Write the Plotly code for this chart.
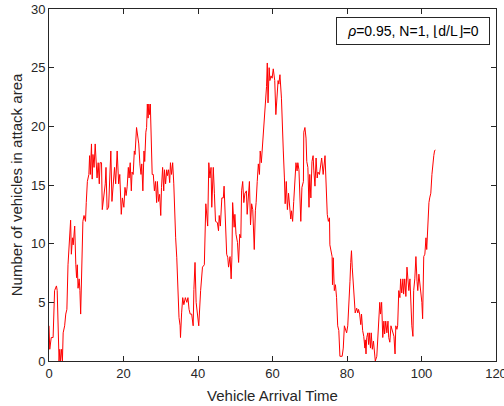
import plotly.graph_objects as go

# ---- data ----
arrival_time = [
    0, 0.2, 0.6, 1.1, 1.5, 2.0, 2.2, 2.7, 2.9, 3.1, 3.4, 3.6, 3.8, 4.2, 4.5, 4.8, 5.1, 5.6, 5.8, 6.0,
    6.3, 6.5, 6.9, 7.2, 7.4, 7.6, 7.8, 8.1, 8.3, 8.5, 8.8, 9.0, 9.1, 9.4, 9.8, 10.0, 10.3, 10.7, 10.9, 11.1,
    11.4, 11.6, 11.8, 12.1, 12.4, 12.6, 12.9, 13.2, 13.5, 13.7, 14.1, 14.3, 14.7, 15.1, 15.3, 15.6, 16.0, 16.3, 16.6, 16.9,
    17.2, 17.6, 17.9, 18.3, 18.7, 19.0, 19.4, 19.7, 20.1, 20.4, 20.7, 21.0, 21.3, 21.5, 21.8, 22.1, 22.3, 22.6, 22.9, 23.1,
    23.5, 23.9, 24.1, 24.4, 24.7, 24.9, 25.2, 25.5, 25.7, 26.0, 26.2, 26.4, 26.6, 26.8, 27.0, 27.2, 27.4, 27.7, 28.0, 28.3,
    28.6, 28.9, 29.1, 29.4, 29.7, 30.0, 30.2, 30.5, 30.8, 31.0, 31.3, 31.6, 31.8, 32.1, 32.4, 32.6, 32.9, 33.2, 33.5, 33.7,
    34.0, 34.3, 34.4, 34.6, 34.9, 35.2, 35.3, 35.6, 35.9, 36.2, 36.6, 37.0, 37.3, 37.6, 37.9, 38.3, 38.7, 38.9, 39.2, 39.5,
    39.8, 40.2,
    40.7, 41.2, 41.7, 42.1, 42.6, 42.9, 43.2, 43.5, 43.7, 44.1, 44.4, 44.7, 45.2, 45.5, 45.7, 46.0, 46.4, 46.8, 47.0, 47.3,
    47.7, 48.0, 48.2, 48.6, 48.9, 49.1, 49.3, 49.7, 49.9, 50.2, 50.6, 50.9, 51.2, 51.5, 51.7, 52.0, 52.3, 52.6, 53.0, 53.2,
    53.5, 53.8, 54.1, 54.4, 54.7, 55.1, 55.4, 55.6, 55.9, 56.2, 56.5, 56.7, 57.0, 57.3, 57.5, 57.8, 58.1, 58.4, 58.6, 58.8,
    59.1, 59.3, 59.6, 59.9, 60.2, 60.6, 60.9, 61.1, 61.5, 61.7, 62.0, 62.4, 62.6, 62.9, 63.2, 63.4, 63.7, 64.0, 64.3, 64.6,
    64.9, 65.1, 65.4, 65.7, 66.0, 66.3, 66.6, 66.8, 67.1, 67.4, 67.6, 67.9, 68.3, 68.4, 68.7, 69.0, 69.2, 69.5, 69.8, 70.0,
    70.3, 70.6, 70.9, 71.1, 71.4, 71.7, 72.0, 72.2, 72.6,
    73.2, 73.6, 74.1, 74.4, 74.7, 75.0, 75.3, 75.4, 75.7, 76.0, 76.1, 76.3, 76.6, 76.9, 77.2, 77.5, 77.8, 78.1, 78.7, 79.0,
    79.3, 79.6, 79.9, 80.2, 80.4, 80.8, 81.0, 81.2, 81.4, 81.7, 82.0, 82.2, 82.6, 82.9, 83.1, 83.4, 83.7, 83.9, 84.2, 84.5,
    84.8, 84.9, 85.1, 85.3, 85.6, 85.8, 86.0, 86.3, 86.5, 86.8, 87.1, 87.4, 87.6, 88.0, 88.2, 88.5, 88.8, 89.0, 89.3, 89.6,
    89.9, 90.1, 90.4, 90.7, 91.0, 91.2, 91.5, 91.8, 92.0, 92.3, 92.6, 92.9, 93.1, 93.4, 93.6, 93.9, 94.2, 94.4, 94.7, 95.0,
    95.2, 95.5, 95.8, 96.1, 96.3, 96.6, 96.9, 97.1, 97.4, 97.7, 97.9, 98.2, 98.5, 98.8, 99.0, 99.3, 99.6, 99.8, 100.1, 100.3,
    100.6, 100.9, 101.2, 101.4, 101.7, 102.0, 102.2, 102.5, 102.8, 103.0, 103.3, 103.5, 103.7,
]

vehicles = [
    3.0, 1.0, 2.0, 2.0, 6.0, 6.4, 6.0, 0.0, 1.0, 0.0, 1.0, 0.0, 2.4, 3.0, 4.0, 4.4, 8.2, 11.4, 12.0, 9.1,
    10.5, 9.9, 11.5, 8.2, 7.1, 8.2, 6.2, 7.0, 6.0, 4.0, 8.5, 9.4, 11.9, 12.4, 11.9, 13.5, 15.3, 15.9, 17.5, 15.9,
    18.5, 15.5, 17.6, 16.5, 18.5, 17.3, 15.6, 16.9, 15.1, 16.9, 16.9, 12.9, 14.2, 15.1, 16.5, 12.9, 13.1, 15.2, 17.9, 13.6,
    14.6, 16.5, 15.1, 17.9, 15.1, 15.9, 12.5, 13.9, 13.1, 14.8, 14.1, 14.9, 16.5, 15.6, 16.9, 14.5, 16.1, 15.9, 17.9, 17.6,
    19.9, 19.0, 18.5, 16.8, 15.9, 16.8, 14.5, 17.9, 17.0, 19.5, 19.9, 21.9, 20.7, 21.9, 21.0, 21.9, 19.5, 15.9, 15.9, 14.5,
    15.3, 13.5, 15.3, 13.6, 14.2, 12.4, 14.8, 16.5, 14.5, 16.3, 15.1, 16.3, 15.8, 16.3, 15.2, 16.9, 15.9, 16.9, 15.1, 12.5,
    10.5, 8.8, 8.0, 6.0, 3.7, 3.0, 2.0, 4.1, 5.4, 4.8, 5.4, 5.0, 5.4, 4.4, 4.0, 4.0, 3.0, 6.1, 8.4, 5.0,
    4.3, 3.0,
    6.0, 8.0, 8.2, 13.4, 11.5, 16.9, 15.6, 16.5, 13.1, 16.5, 14.3, 11.9, 11.8, 11.1, 12.4, 11.5, 13.9, 13.9, 14.9, 12.5,
    9.1, 8.8, 8.0, 8.9, 7.0, 8.8, 13.5, 11.4, 12.5, 10.8, 10.1, 8.4, 10.8, 10.5, 14.5, 15.3, 13.5, 14.3, 14.5, 12.5,
    14.3, 15.3, 11.6, 13.4, 12.9, 9.5, 12.8, 13.5, 15.3, 16.8, 15.9, 17.9, 16.9, 18.2, 19.3, 20.2, 22.3, 23.4, 25.4, 22.0,
    25.0, 23.9, 24.3, 24.1, 24.9, 23.9, 21.0, 21.9, 23.9, 23.6, 24.4, 22.4, 19.9, 17.9, 15.6, 13.4, 15.3, 12.9, 14.3, 13.1,
    12.1, 12.8, 11.9, 13.6, 15.3, 16.9, 16.2, 16.9, 16.3, 13.6, 11.9, 14.8, 15.3, 19.5, 19.9, 19.0, 17.0, 16.5, 13.1, 15.9,
    13.9, 17.0, 17.5, 16.2, 14.9, 17.3, 15.6, 16.1, 15.9,
    17.3, 15.9, 17.5, 14.8, 12.5, 11.9, 12.2, 9.9, 9.5, 8.9, 6.5, 8.8, 6.0, 6.5, 5.4, 3.0, 2.6, 0.4, 0.4, 1.1,
    3.0, 2.7, 2.4, 3.0, 4.8, 6.8, 8.4, 9.4, 8.0, 6.2, 4.7, 4.1, 4.5, 4.1, 4.4, 4.0, 3.1, 4.0, 2.6, 2.1,
    1.1, 1.8, 0.6, 2.0, 2.4, 1.4, 2.4, 1.1, 2.4, 1.0, 1.7, 0.6, 0.0, 0.4, 1.4, 3.4, 5.0, 4.0, 5.0, 2.0,
    3.4, 2.3, 3.4, 2.4, 3.4, 2.0, 1.6, 3.0, 2.8, 2.6, 2.1, 0.6, 3.0, 2.7, 3.0, 6.0, 5.4, 7.0, 5.8, 7.0,
    5.7, 7.0, 5.5, 8.0, 7.4, 6.0, 7.0, 5.1, 3.0, 2.1, 6.0, 7.0, 8.9, 6.8, 6.0, 7.4, 6.5, 6.0, 5.0, 3.6,
    8.9, 9.1, 10.5, 9.5, 11.8, 13.5, 13.9, 14.3, 15.9, 16.9, 17.5, 17.9, 18.0,
]

x_ticks = [0, 20, 40, 60, 80, 100, 120]
y_ticks = [0, 5, 10, 15, 20, 25, 30]
legend_text = "<i>ρ</i>=0.95, N=1, ⌊d/L⌋=0"
x_title = "Vehicle Arrival Time"
y_title = "Number of vehicles in attack area"

FONT = "Liberation Sans, Arial, Helvetica, sans-serif"
AX = "#262626"

fig = go.Figure()
fig.add_trace(go.Scatter(
    x=arrival_time, y=vehicles, mode="lines",
    line=dict(color="#ff0000", width=1),
    showlegend=False, hoverinfo="skip",
))

axis_common = dict(
    showgrid=False, zeroline=False, showline=True, linecolor=AX, linewidth=1,
    mirror="ticks", ticks="inside", ticklen=5, tickwidth=1, tickcolor=AX,
    tickfont=dict(family=FONT, size=13, color=AX), automargin=False,
    ticklabeloverflow="allow",
)

fig.update_layout(
    width=504, height=406,
    margin=dict(l=49, r=8, t=9, b=45),
    paper_bgcolor="white", plot_bgcolor="white",
    font=dict(family=FONT, color=AX),
    xaxis=dict(range=[0, 120], tickvals=x_ticks, ticktext=[str(v) for v in x_ticks],
               title=dict(text=x_title, font=dict(family=FONT, size=15, color=AX), standoff=10),
               **axis_common),
    yaxis=dict(range=[0, 30], tickvals=y_ticks, ticktext=[str(v) for v in y_ticks],
               title=dict(text=y_title, font=dict(family=FONT, size=15, color=AX), standoff=4),
               **axis_common),
    annotations=[dict(
        text=legend_text, xref="paper", yref="paper", x=0.9866, y=0.977,
        xanchor="right", yanchor="top", showarrow=False,
        width=150, height=24, align="center", valign="middle",
        font=dict(family=FONT, size=14, color="black"),
        bordercolor=AX, borderwidth=1, borderpad=1, bgcolor="white",
    )],
)

fig.write_html(
    "out.html",
    config={"displayModeBar": False, "staticPlot": True},
    post_script="document.body.style.margin='0';document.body.style.overflow='hidden';",
)
